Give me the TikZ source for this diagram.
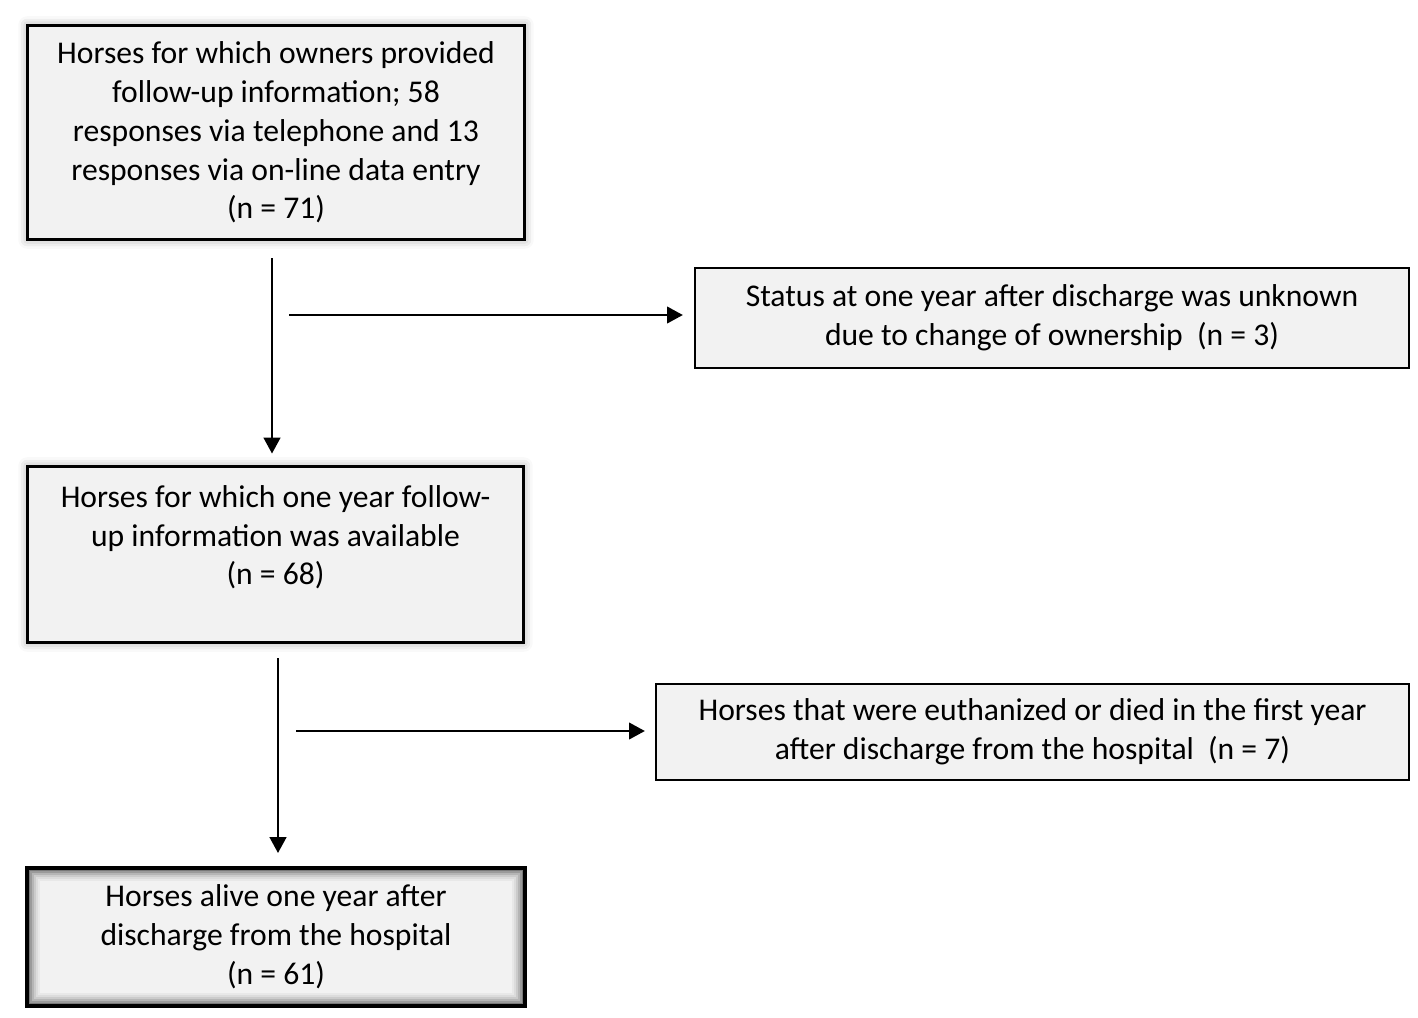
\documentclass[tikz,border=0pt]{standalone}
\usepackage{fontspec}
\setmainfont{Carlito}
\usetikzlibrary{arrows.meta,shadows.blur,calc}
\definecolor{boxgray}{HTML}{F2F2F2}

\begin{document}
\begin{tikzpicture}[x=0.02cm, y=-0.02cm]
    \tikzstyle{box} = [
      draw=black,
      fill=boxgray,
      line width=1.4pt,
      align=center,
      inner sep=0pt,
      font=\fontsize{18}{22.1}\selectfont,
      execute at begin node={\rule{0pt}{21pt}},
    ]
    \tikzstyle{shadowed} = [
      box,
      line width=1.7pt,
      blur shadow={shadow xshift=0pt, shadow yshift=0pt, shadow blur radius=5pt, shadow opacity=35},
    ]
    \tikzstyle{endbox} = [
      box,
      line width=2.3pt,
      path picture={
        \foreach \d/\o in {1/0.5, 2/0.36, 3/0.25, 4/0.16, 5/0.09, 6/0.04} {
          \draw[black, opacity=\o, line width=1.2pt]
            ([shift={(\d*1.1pt,-\d*1.1pt)}] path picture bounding box.north west) rectangle
            ([shift={(-\d*1.1pt,\d*1.1pt)}] path picture bounding box.south east);
        }
      },
    ]
    \tikzstyle{arrow} = [
      line width=1.1pt,
      -{Triangle[length=9pt, width=9.5pt]},
      draw=black,
    ]

    \useasboundingbox (0,0) rectangle (1418,1018);

    % owners
    {
      \node[shadowed, minimum width=9.96cm, minimum height=4.30cm] (owners) at (276,132.5)
        {Horses for which owners provided\\follow-up information; 58\\responses via telephone and 13\\responses via on-line data entry\\(n = 71)};
    }

    % unknown
    {
      \node[box, minimum width=14.28cm, minimum height=2.0cm] (unknown) at (1052,318)
        {Status at one year after discharge was unknown\\due to change of ownership\ \ (n = 3)};
    }

    % available
    {
      \node[shadowed, minimum width=9.94cm, minimum height=3.54cm] (available) at (275.5,554.5)
        {Horses for which one year follow-\\up information was available\\(n = 68)\\\mbox{}};
    }

    % died
    {
      \node[box, minimum width=15.06cm, minimum height=1.92cm] (died) at (1032.5,732)
        {Horses that were euthanized or died in the first year\\after discharge from the hospital\ \ (n = 7)};
    }

    % alive
    {
      \node[endbox, minimum width=9.96cm, minimum height=2.76cm] (alive) at (276,937)
        {Horses alive one year after\\discharge from the hospital\\(n = 61)};
    }

    % first split
    {
      \coordinate (splitI)  at (272,258);
      \coordinate (branchI) at (289,315);
      \draw[arrow, shorten >=0.22cm] (splitI) -- (splitI |- available.north);
      \draw[arrow, shorten >=0.22cm] (branchI) -- (branchI -| unknown.west);
    }

    % second split
    {
      \coordinate (splitII)  at (278,658);
      \coordinate (branchII) at (296,731);
      \draw[arrow, shorten >=0.26cm] (splitII) -- (splitII |- alive.north);
      \draw[arrow, shorten >=0.2cm] (branchII) -- (branchII -| died.west);
    }
\end{tikzpicture}
\end{document}
